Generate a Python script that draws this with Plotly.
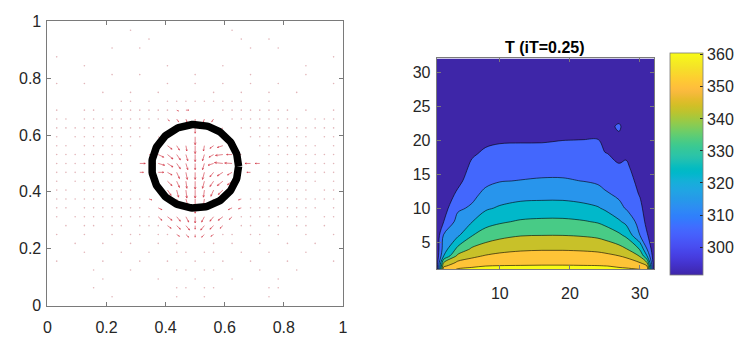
import numpy as np
import plotly.graph_objects as go

# ---------------- Left panel data (quiver on a 1/32 grid) ----------------
GRID_STEP = 1 / 32
# significant arrows: grid column k, grid row j, displacement (du, dv) in grid units
ARROW_K = [16, 16, 16, 16, 16, 16, 16, 16, 16, 16, 16, 16, 16,
           13, 14, 15, 12, 13, 14, 15, 12, 13, 14, 15, 12, 13, 14, 15, 13, 14, 15, 13, 14, 15, 14, 15,
           17, 18, 19, 17, 18, 19, 20, 17, 18, 19, 20, 17, 18, 19, 20, 17, 18, 19, 20, 17, 18, 19, 17, 18,
           10, 11, 10, 11, 11, 12, 22, 23, 22, 21,
           13, 14, 15, 17, 18, 19, 14, 15,
           12, 13, 14, 15, 13, 14, 15, 17, 18, 19, 20, 17, 18, 19, 14, 15, 16, 17, 18, 12, 20, 21, 11, 21]
ARROW_J = [21, 20, 19, 18, 17, 16, 15, 14, 13, 12, 11, 10, 9,
           18, 18, 18, 17, 17, 17, 17, 16, 16, 16, 16, 15, 15, 15, 15, 14, 14, 14, 13, 13, 13, 12, 12,
           18, 18, 18, 17, 17, 17, 17, 16, 16, 16, 16, 15, 15, 15, 15, 14, 14, 14, 14, 13, 13, 13, 12, 12,
           16, 16, 15, 15, 17, 19, 16, 16, 15, 17,
           21, 21, 21, 21, 21, 20, 22, 22,
           10, 10, 10, 10, 9, 9, 9, 10, 10, 10, 10, 9, 9, 9, 8, 8, 8, 8, 8, 11, 11, 11, 12, 12]
ARROW_DU = [0, 0, 0, 0, 0, 0, 0, 0, 0, 0, 0, 0, 0,
            0.5, 0.3, 0.1, 0.6, 0.6, 0.4, 0.2, 0.7, 0.6, 0.4, 0.2, 0.6, 0.5, 0.3, 0.15, 0.5, 0.3, 0.1, 0.4, 0.2, 0.1, 0.3, 0.2,
            -0.1, -0.4, -0.6, -0.2, -0.5, -0.8, -0.6, -0.2, -0.6, -0.9, -0.8, -0.2, -0.4, -0.6, -0.5, -0.2, -0.4, -0.6, -0.5, -0.1, -0.3, -0.5, -0.1, -0.3,
            0.6, 0.7, 0.4, 0.5, 0.5, 0.3, -0.6, -0.5, -0.4, -0.3,
            0.2, 0.2, 0.1, -0.1, -0.2, -0.2, 0.2, 0.3,
            0.4, 0.5, 0.4, 0.3, 0.4, 0.4, 0.4, -0.3, -0.4, -0.5, -0.3, -0.4, -0.4, -0.3, 0.3, 0.3, 0, -0.3, -0.3, 0.4, -0.4, -0.3, 0.3, -0.3]
ARROW_DV = [-0.4, -0.6, -0.9, -0.9, -0.8, -0.7, -0.8, -0.9, -0.9, -0.8, -0.6, -0.7, -0.4,
            -0.4, -0.5, -0.6, -0.3, -0.5, -0.6, -0.7, -0.2, -0.4, -0.6, -0.7, 0, -0.3, -0.7, -0.8, -0.5, -0.7, -0.8, -0.6, -0.8, -0.9, -0.6, -0.7,
            -0.6, -0.3, -0.2, -0.7, -0.3, -0.1, 0, -0.7, -0.2, 0.1, 0.05, -0.8, -0.5, -0.4, -0.3, -0.8, -0.6, -0.5, -0.4, -0.8, -0.7, -0.5, -0.7, -0.5,
            0, 0, 0, -0.1, -0.2, -0.3, 0, 0, 0, 0,
            -0.2, -0.3, -0.3, -0.3, -0.3, -0.2, -0.1, 0,
            -0.4, -0.4, -0.5, -0.6, -0.3, -0.4, -0.5, -0.6, -0.5, -0.4, -0.3, -0.5, -0.4, -0.3, -0.2, -0.3, -0.3, -0.3, -0.2, -0.2, -0.2, -0.1, -0.1, -0.1]

# faint near-zero vectors (drawn as dots): row j -> columns k
DOT_ROWS = {
    31: [9, 20], 30: [11, 21, 24], 29: [7, 10, 22, 25], 28: [1, 31], 27: [4, 13, 19, 28],
    26: [7, 10, 16, 22, 28], 25: [1, 4, 13, 16, 19, 22, 25, 31], 24: [6, 9, 12, 18, 21, 24, 27],
    23: [8, 9, 11, 13, 14, 15, 16, 17, 18, 19, 20, 21, 24],
    22: [1, 4, 5, 7, 8, 9, 10, 11, 12, 13, 19, 20, 21, 22, 23, 24, 25, 26, 28, 31],
    21: [1, 2, 4, 5, 6, 7, 8, 9, 10, 11, 12, 20, 21, 22, 23, 24, 25, 26, 27, 29, 30, 31],
    20: [1, 2, 3, 4, 5, 6, 7, 8, 9, 10, 11, 21, 22, 23, 24, 25, 26, 27, 28, 29, 30, 31],
    19: [1, 3, 4, 5, 6, 7, 8, 9, 10, 22, 23, 24, 25, 26, 27, 28, 30, 31],
    18: [1, 2, 4, 5, 6, 7, 8, 9, 23, 24, 25, 26, 27, 28, 29, 31],
    17: [1, 2, 3, 4, 5, 6, 7, 8, 24, 25, 26, 27, 28, 29, 30, 31],
    16: [1, 2, 3, 4, 5, 6, 7, 8, 24, 25, 26, 27, 28, 29, 30, 31],
    15: [1, 2, 3, 4, 5, 6, 7, 8, 24, 25, 26, 27, 28, 29, 30, 31],
    14: [1, 3, 4, 5, 6, 7, 8, 9, 23, 24, 25, 26, 27, 28, 29, 31],
    13: [1, 2, 4, 5, 6, 7, 8, 9, 23, 24, 25, 26, 27, 28, 30, 31],
    12: [1, 2, 3, 4, 5, 6, 7, 8, 9, 10, 22, 23, 24, 25, 26, 27, 28, 29, 30, 31],
    11: [1, 2, 4, 5, 6, 7, 8, 9, 10, 22, 23, 24, 25, 26, 27, 28, 29, 31],
    10: [1, 3, 4, 5, 6, 7, 8, 9, 10, 11, 21, 22, 23, 24, 25, 26, 27, 28, 30, 31],
    9: [2, 4, 5, 7, 8, 10, 11, 12, 21, 22, 24, 25, 27, 28, 30],
    8: [1, 4, 7, 9, 10, 12, 13, 19, 20, 22, 23, 25, 28, 31],
    7: [3, 6, 9, 12, 14, 18, 20, 23, 26, 29],
    6: [4, 8, 11, 14, 15, 17, 18, 21, 24, 28],
    5: [1, 6, 10, 13, 16, 19, 22, 26, 31],
    4: [5, 9, 14, 15, 17, 18, 23, 27],
    3: [6, 12, 16, 20, 25],
    2: [5, 14, 15, 17, 18, 24, 25],
    1: [7, 14, 17, 24],
}
CIRCLE_CENTER = (0.5, 0.49)
CIRCLE_RADIUS = 0.147
LEFT_TICKS = [0, 0.2, 0.4, 0.6, 0.8, 1]

# ---------------- Right panel data (temperature field) ----------------
X_NODES = [1, 2, 4, 6, 8, 10, 13, 16, 19, 22, 24, 25, 27, 28, 30, 31, 32]
Y_NODES = [1, 1.5, 2, 3, 4, 6, 8, 10, 12, 14, 16, 18, 20, 22, 24, 32]
T_VALUES = [
    [293, 356, 360.6, 360.6, 360.6, 360.6, 360.6, 360.6, 360.6, 360.6, 360.6, 360.6, 360.6, 360.6, 360.6, 356, 293],
    [293, 348, 357.8, 359.6, 360.0, 360.3, 360.4, 360.5, 360.5, 360.4, 360.3, 360.1, 359.6, 359.2, 355, 350, 293],
    [293, 340, 352.2, 354.0, 357.2, 357.8, 358.3, 358.6, 358.6, 358.3, 358.0, 357.6, 356.5, 355.4, 350, 340, 293],
    [293, 320, 342.0, 348.0, 350.6, 352.2, 353.3, 353.8, 353.8, 353.3, 352.8, 352.2, 350.0, 347.9, 339, 320, 293],
    [293, 315, 332.7, 341.3, 345.0, 347.0, 348.6, 349.1, 349.1, 348.6, 347.8, 346.7, 343.5, 340.6, 329, 310, 293],
    [293, 311, 318.5, 329.5, 334.5, 337.4, 339.6, 340.0, 340.0, 339.2, 338.0, 336.4, 332.0, 328.3, 310, 301, 293],
    [293, 300, 313.5, 319.6, 326.5, 328.8, 331.2, 332.0, 332.0, 330.8, 329.2, 327.3, 321.5, 317.6, 306.1, 297, 293],
    [293, 296, 308.4, 311.3, 318.6, 321.2, 323.5, 324.0, 324.0, 322.5, 320.8, 318.6, 312.5, 309.4, 302.6, 295, 293],
    [293, 294, 301.9, 307.5, 312.4, 315.1, 316.6, 317.0, 317.0, 315.8, 313.8, 311.4, 308.5, 306.8, 299.3, 294, 293],
    [293, 293.5, 297.5, 304.5, 307.9, 309.6, 310.3, 310.9, 310.9, 309.8, 308.6, 307.2, 305.3, 304.0, 297.3, 293.5, 293],
    [293, 293, 295.5, 301.6, 304.6, 305.9, 306.4, 307.0, 307.0, 306.6, 305.5, 303.8, 300.5, 301.4, 296, 293.2, 293],
    [293, 293, 294.5, 299.0, 301.3, 302.2, 302.6, 302.8, 303.5, 303.3, 302.5, 300.3, 298.8, 298.8, 295, 293, 293],
    [293, 293, 294, 297, 298.5, 299.2, 299.3, 299.3, 299.9, 300.1, 300.3, 297.5, 297.3, 297, 294.5, 293, 293],
    [292.5, 292.5, 293.5, 295.5, 296.5, 297, 297, 297, 297, 297, 296.5, 296, 301.6, 295.8, 294, 293, 293],
    [292, 292, 293, 294.5, 295, 295.5, 295.5, 295.5, 295.5, 295, 295, 294.5, 294.2, 294, 293.5, 292.8, 292.5],
    [291.5, 291.5, 291.5, 292, 292, 292, 292, 292, 292, 292, 292, 292, 292, 292, 292, 291.5, 291.5],
]
LEVEL_START, LEVEL_END, LEVEL_STEP = 300, 360, 10
CBAR_MIN, CBAR_MAX = 291.3, 360.6
CBAR_TICKS = [300, 310, 320, 330, 340, 350, 360]
RIGHT_XTICKS = [10, 20, 30]
RIGHT_YTICKS = [5, 10, 15, 20, 25, 30]
TITLE = "T (iT=0.25)"

# ---------------- styles ----------------
PARULA_RGB = [
    (0.2422, 0.1504, 0.6603), (0.2504, 0.1650, 0.7076), (0.2578, 0.1818, 0.7511), (0.2647, 0.1978, 0.7952),
    (0.2706, 0.2147, 0.8364), (0.2751, 0.2342, 0.8710), (0.2783, 0.2559, 0.8991), (0.2803, 0.2782, 0.9221),
    (0.2813, 0.3006, 0.9414), (0.2810, 0.3228, 0.9579), (0.2795, 0.3447, 0.9717), (0.2760, 0.3667, 0.9829),
    (0.2699, 0.3892, 0.9906), (0.2602, 0.4123, 0.9952), (0.2440, 0.4358, 0.9988), (0.2206, 0.4603, 0.9973),
    (0.1963, 0.4847, 0.9892), (0.1834, 0.5074, 0.9798), (0.1786, 0.5289, 0.9682), (0.1764, 0.5499, 0.9520),
    (0.1687, 0.5703, 0.9359), (0.1540, 0.5902, 0.9218), (0.1460, 0.6091, 0.9079), (0.1380, 0.6276, 0.8973),
    (0.1248, 0.6459, 0.8883), (0.1113, 0.6635, 0.8763), (0.0952, 0.6798, 0.8598), (0.0689, 0.6948, 0.8394),
    (0.0297, 0.7082, 0.8163), (0.0036, 0.7203, 0.7917), (0.0067, 0.7312, 0.7660), (0.0433, 0.7411, 0.7394),
    (0.0964, 0.7500, 0.7120), (0.1408, 0.7584, 0.6842), (0.1717, 0.7670, 0.6554), (0.1938, 0.7758, 0.6251),
    (0.2161, 0.7843, 0.5923), (0.2470, 0.7918, 0.5567), (0.2906, 0.7973, 0.5188), (0.3406, 0.8008, 0.4789),
    (0.3909, 0.8029, 0.4354), (0.4456, 0.8024, 0.3909), (0.5044, 0.7993, 0.3480), (0.5616, 0.7942, 0.3045),
    (0.6174, 0.7876, 0.2612), (0.6720, 0.7793, 0.2227), (0.7242, 0.7698, 0.1910), (0.7738, 0.7598, 0.1646),
    (0.8203, 0.7498, 0.1535), (0.8634, 0.7406, 0.1596), (0.9035, 0.7330, 0.1774), (0.9393, 0.7288, 0.2100),
    (0.9728, 0.7298, 0.2394), (0.9956, 0.7434, 0.2371), (0.9970, 0.7659, 0.2199), (0.9952, 0.7893, 0.2028),
    (0.9892, 0.8136, 0.1885), (0.9786, 0.8386, 0.1766), (0.9676, 0.8639, 0.1643), (0.9610, 0.8890, 0.1537),
    (0.9597, 0.9135, 0.1423), (0.9628, 0.9373, 0.1265), (0.9691, 0.9606, 0.1064), (0.9769, 0.9839, 0.0805),
]
PARULA = [[i / (len(PARULA_RGB) - 1), "rgb(%d,%d,%d)" % tuple(round(c * 255) for c in rgb)]
          for i, rgb in enumerate(PARULA_RGB)]


def parula_at(f):
    arr = np.array(PARULA_RGB)
    pos = np.linspace(0, 1, len(arr))
    rgb = [np.interp(f, pos, arr[:, c]) for c in range(3)]
    return "rgb(%d,%d,%d)" % tuple(round(c * 255) for c in rgb)


# fill colour of each contour band (position along parula), bands from low to high
BAND_SHADE = [0.0, 0.2, 0.33, 0.46, 0.6, 0.75, 0.86, 1.0]
nb = len(BAND_SHADE)
BAND_SCALE = [[i / (nb - 1), parula_at(f)] for i, f in enumerate(BAND_SHADE)]

FONT = "Liberation Sans, Arial, Helvetica, sans-serif"
TXT = "#262626"
AXC = "#7a7a7a"
FS = 16
W, H = 741, 345


def px_dom_x(a, b):
    return [a / W, b / W]


def px_dom_y(top, bottom):
    return [(H - bottom) / H, (H - top) / H]


# ---------------- build quiver segments ----------------
qx, qy = [], []
for k, j, du, dv in zip(ARROW_K, ARROW_J, ARROW_DU, ARROW_DV):
    x0, y0 = k * GRID_STEP, j * GRID_STEP
    x1, y1 = x0 + du * GRID_STEP, y0 + dv * GRID_STEP
    qx += [x0, x1, None]
    qy += [y0, y1, None]
    L = np.hypot(x1 - x0, y1 - y0)
    if L > 0:
        ang = np.arctan2(y1 - y0, x1 - x0)
        hl = 0.3 * L
        for s in (1, -1):
            a = ang + np.pi + s * np.radians(22)
            qx += [x1, x1 + hl * np.cos(a), None]
            qy += [y1, y1 + hl * np.sin(a), None]

dx, dy = [], []
for j, ks in DOT_ROWS.items():
    for k in ks:
        dx.append(k * GRID_STEP)
        dy.append(j * GRID_STEP)

theta = np.linspace(0, 2 * np.pi, 200)
cx = CIRCLE_CENTER[0] + CIRCLE_RADIUS * np.cos(theta)
cy = CIRCLE_CENTER[1] + CIRCLE_RADIUS * np.sin(theta)

fig = go.Figure()
fig.add_trace(go.Scatter(x=dx, y=dy, mode="markers", xaxis="x", yaxis="y",
                         marker=dict(size=1.6, color="rgba(190,90,100,0.45)"),
                         hoverinfo="skip", showlegend=False))
fig.add_trace(go.Scatter(x=qx, y=qy, mode="lines", xaxis="x", yaxis="y",
                         line=dict(color="rgba(205,35,50,0.8)", width=0.7),
                         hoverinfo="skip", showlegend=False))
fig.add_trace(go.Scatter(x=cx, y=cy, mode="lines", xaxis="x", yaxis="y",
                         line=dict(color="black", width=7.5),
                         hoverinfo="skip", showlegend=False))

fig.add_trace(go.Contour(
    x=X_NODES, y=Y_NODES, z=T_VALUES, xaxis="x2", yaxis="y2",
    colorscale=BAND_SCALE, showscale=False,
    contours=dict(start=LEVEL_START, end=LEVEL_END, size=LEVEL_STEP, coloring="fill", showlines=True),
    line=dict(color="black", width=0.6, smoothing=1),
    hoverinfo="skip",
))
# continuous colorbar
cb_top, cb_bot = 53, 275
fig.add_trace(go.Scatter(
    x=[-100, -100], y=[-100, -100], mode="markers", xaxis="x2", yaxis="y2",
    marker=dict(size=1, color=[CBAR_MIN, CBAR_MAX], colorscale=PARULA, cmin=CBAR_MIN, cmax=CBAR_MAX,
                showscale=True,
                colorbar=dict(x=674 / W, xanchor="left", xpad=0, ypad=0,
                              y=(H - (cb_top + cb_bot) / 2) / H, yanchor="middle",
                              len=cb_bot - cb_top, lenmode="pixels",
                              thickness=33, thicknessmode="pixels",
                              outlinewidth=0.8, outlinecolor=AXC,
                              tickvals=CBAR_TICKS, ticks="inside", ticklen=3, tickcolor=TXT,
                              tickfont=dict(family=FONT, size=FS, color=TXT))),
    hoverinfo="skip", showlegend=False))

axis_common = dict(showgrid=False, zeroline=False, ticks="inside", ticklen=4, tickcolor=AXC,
                   showline=True, linecolor=AXC, linewidth=1, mirror="ticks",
                   tickfont=dict(family=FONT, size=FS, color=TXT))

fig.update_layout(
    width=W, height=H, margin=dict(l=0, r=0, t=0, b=0),
    paper_bgcolor="white", plot_bgcolor="white", showlegend=False,
    xaxis=dict(domain=px_dom_x(44, 343), range=[0, 1], tickvals=LEFT_TICKS, anchor="y",
               ticklabelstandoff=7, **axis_common),
    yaxis=dict(domain=px_dom_y(14, 313), range=[0, 1], tickvals=LEFT_TICKS, anchor="x",
               ticklabelstandoff=2, **axis_common),
    xaxis2=dict(domain=px_dom_x(438, 658), range=[1, 32], tickvals=RIGHT_XTICKS, anchor="y2",
                ticklabelstandoff=9, **axis_common),
    yaxis2=dict(domain=px_dom_y(53, 275), range=[1, 32], tickvals=RIGHT_YTICKS, anchor="x2",
                ticklabelstandoff=2, **axis_common),
    annotations=[dict(text="<b>%s</b>" % TITLE, xref="x2 domain", yref="y2 domain", x=0.5, y=1,
                      xanchor="center", yanchor="bottom", yshift=0, showarrow=False,
                      font=dict(family=FONT, size=16, color="black"))],
)

fig.write_html("out.html")
